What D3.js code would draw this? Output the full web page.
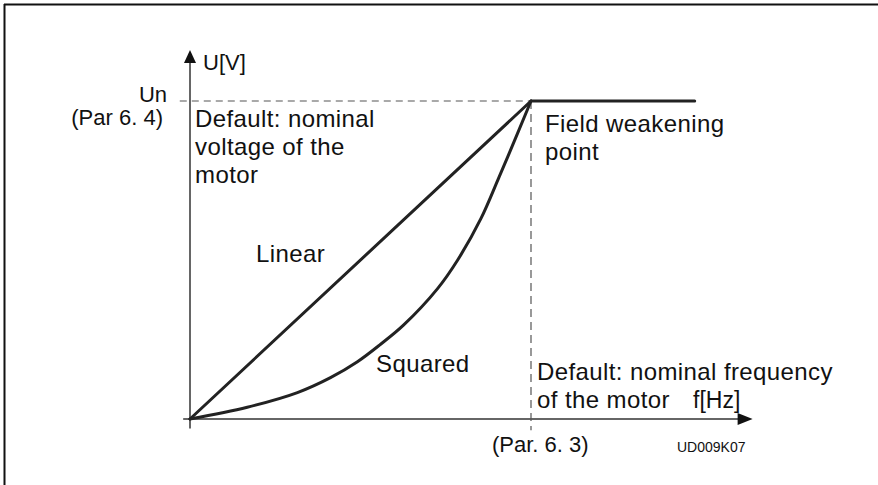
<!DOCTYPE html>
<html>
<head>
<meta charset="utf-8">
<script src="https://cdn.jsdelivr.net/npm/d3@7"></script>
<style>
  html, body { margin: 0; padding: 0; background: #fff; }
  svg { display: block; }
  text { font-family: "Liberation Sans", Arial, Helvetica, sans-serif; fill: #111; }
</style>
</head>
<body>
<svg id="chart" width="878" height="485"></svg>
<script>
// ---- data (normalised: f / f_nominal, U / U_nominal) ----
const linearF   = [0, 1];
const linearU   = [0, 1];
const flatF     = [1, 1.48];
const flatU     = [1, 1];
const squaredF  = [0, 0.168, 0.315, 0.412, 0.491, 0.559, 0.626, 0.726, 0.785, 0.853, 0.906, 0.932, 1];
const squaredU  = [0, 0.037, 0.083, 0.13, 0.18, 0.235, 0.295, 0.41, 0.5, 0.63, 0.76, 0.825, 1];
const fAxisExtent = [-0.02, 1.65];
const uAxisExtent = [-0.03, 1.16];
const unDashF   = [-0.03, 1];
const fnDashU   = [1, -0.035];
const yLabels   = ["Un", "(Par 6. 4)"];
const xLabels   = ["(Par. 6. 3)"];
const axisNames = ["U[V]", "f[Hz]"];
const noteVoltage   = ["Default: nominal", "voltage of the", "motor"];
const noteFieldWeak = ["Field weakening", "point"];
const noteFrequency = ["Default: nominal frequency", "of the motor"];
const curveNames = ["Linear", "Squared"];
const figureId = "UD009K07";

const svg = d3.select("#chart");
const x = d3.scaleLinear().domain([0, 1]).range([190, 531]);
const y = d3.scaleLinear().domain([0, 1]).range([419, 101]);

// frame (top + left)
svg.append("line").attr("x1", 4).attr("y1", 4.5).attr("x2", 878).attr("y2", 4.5)
  .attr("stroke", "#111").attr("stroke-width", 2);
svg.append("line").attr("x1", 4.5).attr("y1", 4).attr("x2", 4.5).attr("y2", 485)
  .attr("stroke", "#111").attr("stroke-width", 2);

const axisColor = "#333";
// y axis
const yTip = y(uAxisExtent[1]);
svg.append("line").attr("x1", x(0)).attr("x2", x(0))
  .attr("y1", y(uAxisExtent[0])).attr("y2", yTip + 12)
  .attr("stroke", axisColor).attr("stroke-width", 1.5);
svg.append("path")
  .attr("d", `M${x(0)},${yTip} L${x(0) - 6},${yTip + 13} L${x(0) + 6},${yTip + 13} Z`)
  .attr("fill", "#111");
// x axis
const xTip = x(fAxisExtent[1]);
svg.append("line").attr("x1", x(fAxisExtent[0])).attr("x2", xTip - 12)
  .attr("y1", y(0)).attr("y2", y(0))
  .attr("stroke", axisColor).attr("stroke-width", 1.5);
svg.append("path")
  .attr("d", `M${xTip},${y(0)} L${xTip - 15},${y(0) - 6} L${xTip - 15},${y(0) + 6} Z`)
  .attr("fill", "#111");

// dashed reference lines
svg.append("line").attr("x1", x(unDashF[0])).attr("x2", x(unDashF[1]))
  .attr("y1", y(1)).attr("y2", y(1))
  .attr("stroke", "#555").attr("stroke-width", 1.2).attr("stroke-dasharray", "7,5");
svg.append("line").attr("x1", x(1)).attr("x2", x(1))
  .attr("y1", y(fnDashU[0])).attr("y2", y(fnDashU[1]))
  .attr("stroke", "#555").attr("stroke-width", 1.2).attr("stroke-dasharray", "8,5");

// curves
const line = d3.line().x(d => x(d[0])).y(d => y(d[1]));
const curveStyle = sel => sel.attr("fill", "none").attr("stroke", "#222")
  .attr("stroke-width", 3).attr("stroke-linejoin", "round").attr("stroke-linecap", "round");

svg.append("path").datum(d3.zip(linearF, linearU)).attr("d", line).call(curveStyle);
svg.append("path").datum(d3.zip(flatF, flatU)).attr("d", line).call(curveStyle);
svg.append("path").datum(d3.zip(squaredF, squaredU))
  .attr("d", d3.line().x(d => x(d[0])).y(d => y(d[1])).curve(d3.curveCatmullRom.alpha(0.5)))
  .call(curveStyle);

// text
function lines(arr, x0, y0, dy, size, anchor, spacing) {
  arr.forEach((t, i) => {
    svg.append("text").attr("x", x0).attr("y", y0 + i * dy)
      .attr("font-size", size).attr("letter-spacing", (spacing ?? 0.4) + "px")
      .attr("text-anchor", anchor || "start").text(t);
  });
}
lines([axisNames[0]], 203, 70, 0, 22, "start", 0);
lines([yLabels[0]], 167, 102, 0, 22, "end", 0);
lines([yLabels[1]], 163, 125, 0, 22, "end", 0);
lines(noteVoltage, 195, 127, 28, 24);
lines(noteFieldWeak, 545, 132, 28, 24);
lines([curveNames[0]], 256, 262, 0, 24);
lines([curveNames[1]], 376, 372, 0, 24);
lines(noteFrequency, 537, 380, 28, 24);
lines([axisNames[1]], 693, 408, 0, 23, "start", 0);
lines(xLabels, 492, 452, 0, 22, "start", 0);
svg.append("text").attr("x", 677).attr("y", 452).attr("font-size", 14).text(figureId);
</script>
</body>
</html>
